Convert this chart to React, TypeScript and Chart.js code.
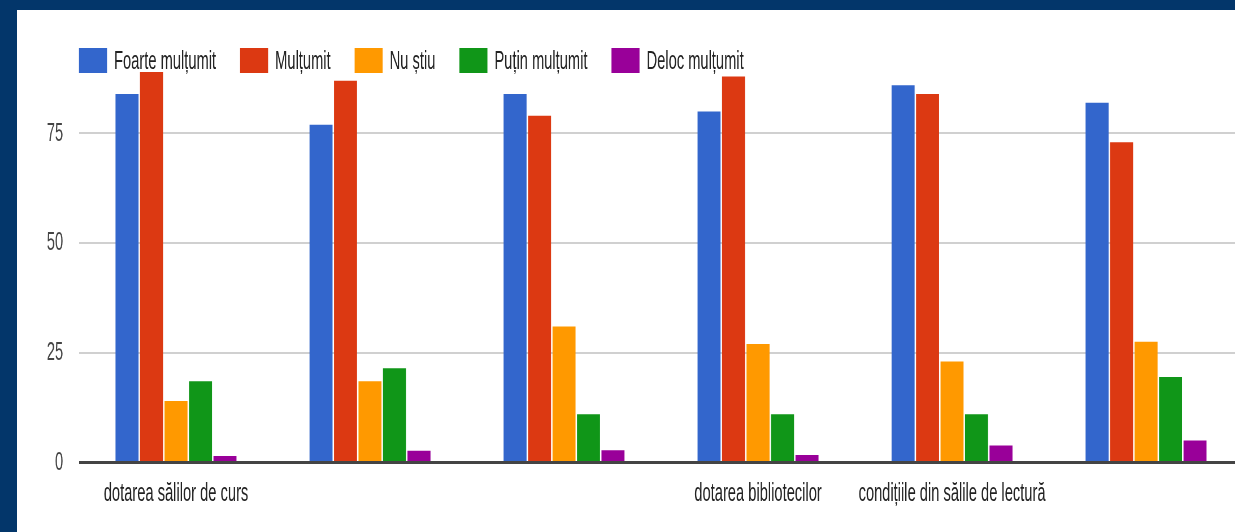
import React, { useEffect, useRef } from "react";
import { Chart, registerables } from "chart.js";

Chart.register(...registerables);

// ---- data ----
const categories = [
  "dotarea sălilor de curs",
  "",
  "",
  "dotarea bibliotecilor",
  "condițiile din sălile de lectură",
  "",
];
const seriesNames = ["Foarte mulțumit", "Mulțumit", "Nu știu", "Puțin mulțumit", "Deloc mulțumit"];
const foarteMultumit = [84, 77, 84, 80, 86, 82];
const multumit = [89, 87, 79, 88, 84, 73];
const nuStiu = [14, 18.5, 31, 27, 23, 27.5];
const putinMultumit = [18.5, 21.5, 11, 11, 11, 19.5];
const delocMultumit = [1.5, 2.7, 2.8, 1.7, 3.9, 5];
const yTicks = [0, 25, 50, 75];
const yMax = 90;
const seriesColors = ["#3366cc", "#dc3912", "#ff9900", "#109618", "#990099"];

// ---- layout (internal canvas units; canvas is squeezed horizontally) ----
const SX = 0.565;
const PANEL_W = 1218;
const PANEL_H = 522;
const CANVAS_W = 2170;
const FONT = "'Liberation Sans', Arial, sans-serif";

const legendPlugin = {
  id: "topLegend",
  afterDatasetsDraw(chart: any) {
    const ctx = chart.ctx;
    ctx.save();
    ctx.font = `26px ${FONT}`;
    ctx.textBaseline = "middle";
    ctx.textAlign = "left";
    let x = chart.chartArea.left;
    const top = 38;
    const boxW = 49.6;
    const boxH = 25;
    chart.data.datasets.forEach((ds: any) => {
      ctx.fillStyle = ds.backgroundColor;
      ctx.fillRect(x, top, boxW, boxH);
      x += boxW + 12.4;
      ctx.fillStyle = "#222222";
      ctx.fillText(ds.label, x, top + boxH / 2 + 1.5);
      x += ctx.measureText(ds.label).width + 42.5;
    });
    ctx.restore();
  },
};

export default function App() {
  const ref = useRef<HTMLCanvasElement | null>(null);

  useEffect(() => {
    if (!ref.current) return;
    const values = [foarteMultumit, multumit, nuStiu, putinMultumit, delocMultumit];
    const chart = new Chart(ref.current, {
      type: "bar",
      data: {
        labels: categories,
        datasets: seriesNames.map((name, i) => ({
          label: name,
          data: values[i],
          backgroundColor: seriesColors[i],
          borderWidth: 0,
          categoryPercentage: 0.631,
          barPercentage: 0.94,
        })),
      },
      options: {
        animation: false,
        responsive: true,
        maintainAspectRatio: false,
        layout: { padding: { top: 57.6, left: 0, right: 0, bottom: 0 } },
        plugins: {
          legend: { display: false },
          tooltip: { enabled: false },
          title: { display: false },
        },
        scales: {
          x: {
            grid: { display: false, drawTicks: false },
            border: { display: false },
            ticks: {
              autoSkip: false,
              maxRotation: 0,
              minRotation: 0,
              padding: 16,
              color: "#222222",
              font: { family: FONT, size: 26 },
            },
            afterFit: (scale: any) => {
              scale.height = 69.5;
            },
          },
          y: {
            min: 0,
            max: yMax,
            grid: {
              drawTicks: false,
              color: (c: any) => (c.tick && c.tick.value === 0 ? "#444444" : "#d0d0d0"),
              lineWidth: (c: any) => (c.tick && c.tick.value === 0 ? 3 : 2),
            },
            border: { display: false },
            ticks: {
              padding: 28,
              color: "#444444",
              font: { family: FONT, size: 26 },
            },
            afterBuildTicks: (scale: any) => {
              scale.ticks = yTicks.map((v) => ({ value: v }));
            },
            afterFit: (scale: any) => {
              scale.width = 109.7;
            },
          },
        },
      },
      plugins: [legendPlugin],
    });
    return () => chart.destroy();
  }, []);

  return (
    <div
      style={{
        position: "fixed",
        left: 0,
        top: 0,
        width: 1235,
        height: 532,
        background: "#03366a",
        overflow: "hidden",
      }}
    >
      <div
        style={{
          position: "absolute",
          left: 17,
          top: 10,
          width: PANEL_W,
          height: PANEL_H,
          background: "#ffffff",
          overflow: "hidden",
        }}
      >
        <div
          style={{
            position: "absolute",
            left: 0,
            top: 0,
            width: CANVAS_W,
            height: PANEL_H,
            transform: `scaleX(${SX})`,
            transformOrigin: "0 0",
          }}
        >
          <canvas ref={ref} style={{ display: "block" }} />
        </div>
      </div>
    </div>
  );
}
